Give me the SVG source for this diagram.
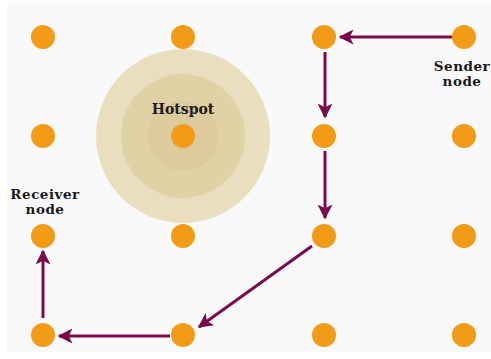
<svg xmlns="http://www.w3.org/2000/svg" width="491" height="359" viewBox="0 0 491 359">
<defs>
<style>
.node{fill:#f29b17}
.edge{stroke:#7a0a4c;stroke-width:3;fill:none;marker-end:url(#ah)}
.lbl{font-family:"DejaVu Serif","Liberation Serif",serif;fill:#1a1a1a;text-anchor:middle}
.small{font-size:13.5px;font-weight:600;letter-spacing:0.5px}
.big{font-size:14px;font-weight:bold}
</style>
<marker id="ah" viewBox="0 0 10 10" refX="9" refY="5" markerWidth="5" markerHeight="5" orient="auto" markerUnits="strokeWidth">
<path d="M0,0 L10,5 L0,10 L2.5,5 z" fill="#7a0a4c"/>
</marker>
</defs>
<rect x="0" y="0" width="491" height="359" fill="#ffffff"/>
<rect x="7" y="3" width="484" height="349" fill="#f9f9f9"/>
<g id="hotspot">
<circle cx="183" cy="136" r="87" fill="#e9dfbf"/>
<circle cx="183" cy="136" r="62" fill="#e1d2a6"/>
<circle cx="183" cy="136" r="35" fill="#ddcb9e"/>
<text class="lbl big" x="183" y="114">Hotspot</text>
</g>
<g id="n11"><circle class="node" cx="43" cy="37" r="12"/></g>
<g id="n12"><circle class="node" cx="183" cy="37" r="12"/></g>
<g id="n13"><circle class="node" cx="324" cy="37" r="12"/></g>
<g id="sender"><circle class="node" cx="464" cy="37" r="12"/>
<text class="lbl small" x="462" y="71">Sender</text>
<text class="lbl small" x="462" y="86">node</text></g>
<g id="n21"><circle class="node" cx="43" cy="136" r="12"/></g>
<g id="n22"><circle class="node" cx="183" cy="136" r="12"/></g>
<g id="n23"><circle class="node" cx="324" cy="136" r="12"/></g>
<g id="n24"><circle class="node" cx="464" cy="136" r="12"/></g>
<g id="receiver"><circle class="node" cx="43" cy="236" r="12"/>
<text class="lbl small" x="45" y="199">Receiver</text>
<text class="lbl small" x="45" y="214">node</text></g>
<g id="n32"><circle class="node" cx="183" cy="236" r="12"/></g>
<g id="n33"><circle class="node" cx="324" cy="236" r="12"/></g>
<g id="n34"><circle class="node" cx="464" cy="236" r="12"/></g>
<g id="n41"><circle class="node" cx="43" cy="335" r="12"/></g>
<g id="n42"><circle class="node" cx="183" cy="335" r="12"/></g>
<g id="n43"><circle class="node" cx="324" cy="335" r="12"/></g>
<g id="n44"><circle class="node" cx="464" cy="335" r="12"/></g>
<g id="connectors">
<line class="edge" x1="452" y1="37" x2="340" y2="37"/>
<line class="edge" x1="325" y1="52" x2="325" y2="117"/>
<line class="edge" x1="325" y1="151" x2="325" y2="218"/>
<line class="edge" x1="312" y1="246" x2="199" y2="327"/>
<line class="edge" x1="170" y1="336" x2="59" y2="336"/>
<line class="edge" x1="43" y1="318" x2="43" y2="251"/>
</g>
</svg>
